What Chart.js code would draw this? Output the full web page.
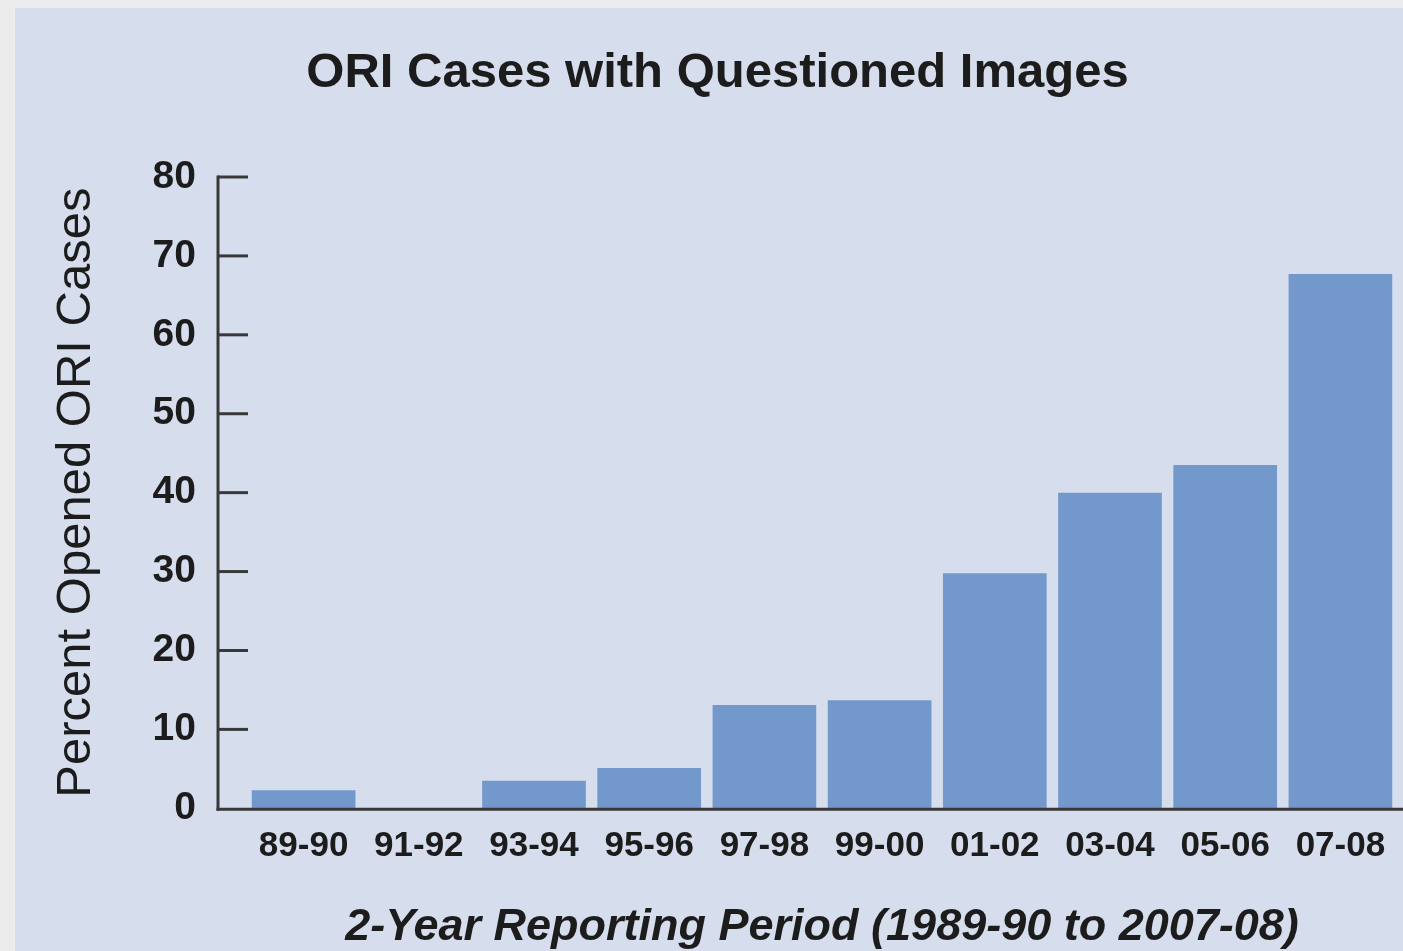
<!DOCTYPE html>
<html>
<head>
<meta charset="utf-8">
<script src="https://cdn.jsdelivr.net/npm/chart.js@4.4.1/dist/chart.umd.min.js"></script>
<style>
  html, body { margin: 0; padding: 0; width: 1403px; height: 951px; overflow: hidden; background: #ececec; }
  #wrap { position: absolute; left: 15px; top: 8px; width: 1405px; height: 943px; background: #d6deee; }
  canvas { display: block; }
</style>
</head>
<body>
<div id="wrap"><canvas id="c" width="1405" height="943"></canvas></div>
<script>
const categories = ["89-90", "91-92", "93-94", "95-96", "97-98", "99-00", "01-02", "03-04", "05-06", "07-08"];
const percentOpened = [2.3, 0, 3.5, 5.1, 13.1, 13.7, 29.8, 40.0, 43.5, 67.7];
const yTicks = [0, 10, 20, 30, 40, 50, 60, 70, 80];
const chartTitle = "ORI Cases with Questioned Images";
const yTitle = "Percent Opened ORI Cases";
const xTitle = "2-Year Reporting Period (1989-90 to 2007-08)";

const FONT = "'Liberation Sans', Arial, Helvetica, sans-serif";
const AXIS_COLOR = "#383838";
const TEXT_COLOR = "#1c1c1c";

const axesPlugin = {
  id: 'customAxes',
  afterDatasetsDraw(chart) {
    const ctx = chart.ctx;
    const y = chart.scales.y;
    const ca = chart.chartArea;
    const axisX = ca.left - 28;
    const y0 = y.getPixelForValue(0);
    const yTop = y.getPixelForValue(yTicks[yTicks.length - 1]);
    ctx.save();
    ctx.strokeStyle = AXIS_COLOR;
    ctx.lineWidth = 3;
    ctx.lineCap = 'butt';
    ctx.beginPath();
    ctx.moveTo(axisX, yTop - 1.5);
    ctx.lineTo(axisX, y0 + 2.5);
    ctx.stroke();
    yTicks.forEach(v => {
      if (v === 0) return;
      const py = y.getPixelForValue(v);
      ctx.beginPath();
      ctx.moveTo(axisX, py);
      ctx.lineTo(axisX + 30, py);
      ctx.stroke();
    });
    ctx.beginPath();
    ctx.moveTo(axisX - 1.5, y0 + 1);
    ctx.lineTo(chart.width, y0 + 1);
    ctx.stroke();
    ctx.restore();
  }
};

new Chart(document.getElementById('c'), {
  type: 'bar',
  data: {
    labels: categories,
    datasets: [{
      data: percentOpened,
      backgroundColor: '#7399cc',
      borderWidth: 0,
      barPercentage: 0.9,
      categoryPercentage: 1.0
    }]
  },
  options: {
    responsive: false,
    animation: false,
    devicePixelRatio: 1,
    layout: { padding: { left: 22, right: 22, top: 0, bottom: 0 } },
    plugins: {
      legend: { display: false },
      tooltip: { enabled: false },
      title: {
        display: true,
        text: chartTitle,
        color: TEXT_COLOR,
        font: { family: FONT, size: 49, weight: 'bold', lineHeight: 1.2 },
        padding: { top: 35.6, bottom: 74.6 }
      }
    },
    scales: {
      x: {
        offset: true,
        grid: { display: false, drawTicks: false },
        border: { display: false },
        ticks: {
          color: TEXT_COLOR,
          font: { family: FONT, size: 35, weight: 'bold' },
          padding: 17,
          maxRotation: 0,
          autoSkip: false
        },
        title: {
          display: true,
          text: xTitle,
          color: TEXT_COLOR,
          font: { family: FONT, size: 45, weight: 'bold', style: 'italic', lineHeight: 1.2 },
          padding: { top: 0, bottom: -4 }
        },
        afterFit(scale) { scale.height = 142.7; }
      },
      y: {
        min: 0,
        max: 80,
        grid: { display: false, drawTicks: false },
        border: { display: false },
        ticks: {
          stepSize: 10,
          color: TEXT_COLOR,
          font: { family: FONT, size: 39, weight: 'bold' },
          padding: 50
        },
        title: {
          display: true,
          text: yTitle,
          color: TEXT_COLOR,
          font: { family: FONT, size: 49, weight: 'normal', lineHeight: 1.2 },
          padding: { top: 10, bottom: 0 }
        },
        afterFit(scale) { scale.width = 209; }
      }
    }
  },
  plugins: [axesPlugin]
});
</script>
</body>
</html>
